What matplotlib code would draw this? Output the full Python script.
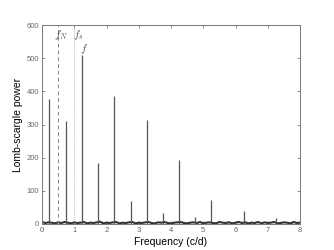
import numpy as np
import matplotlib
matplotlib.use("Agg")
import matplotlib.pyplot as plt

# peak positions (c/d) and Lomb-Scargle power
peakFreq = [0.23, 0.74, 1.24, 1.75, 2.24, 2.75, 3.25, 3.75, 4.25, 4.75, 5.25, 5.75, 6.25, 6.75, 7.25, 7.75]
peakPower = [377, 310, 509, 183, 385, 70, 314, 34, 193, 20, 72, 10, 40, 6, 19, 6]

# noise floor, sampled every 0.1 c/d
floorFreq = [0.0, 0.1, 0.2, 0.3, 0.4, 0.5, 0.6, 0.7, 0.8, 0.9, 1.0, 1.1, 1.2, 1.3, 1.4, 1.5,
             1.6, 1.7, 1.8, 1.9, 2.0, 2.1, 2.2, 2.3, 2.4, 2.5, 2.6, 2.7, 2.8, 2.9, 3.0, 3.1,
             3.2, 3.3, 3.4, 3.5, 3.6, 3.7, 3.8, 3.9, 4.0, 4.1, 4.2, 4.3, 4.4, 4.5, 4.6, 4.7,
             4.8, 4.9, 5.0, 5.1, 5.2, 5.3, 5.4, 5.5, 5.6, 5.7, 5.8, 5.9, 6.0, 6.1, 6.2, 6.3,
             6.4, 6.5, 6.6, 6.7, 6.8, 6.9, 7.0, 7.1, 7.2, 7.3, 7.4, 7.5, 7.6, 7.7, 7.8, 7.9, 8.0]
floorPower = [6, 3, 5, 4, 2, 5, 3, 6, 4, 2, 5, 3, 4, 6, 2, 4,
              3, 5, 7, 2, 4, 3, 5, 6, 2, 4, 3, 5, 6, 2, 4, 3,
              5, 6, 3, 2, 5, 4, 6, 3, 2, 4, 5, 6, 3, 2, 4, 5,
              3, 6, 2, 4, 5, 3, 2, 6, 4, 3, 5, 2, 4, 6, 3, 5,
              2, 4, 3, 6, 2, 5, 3, 4, 6, 2, 3, 5, 4, 2, 6, 3, 4]

nyquist = 0.5
sampling = 1.0

plt.rcParams['font.family'] = ['Liberation Sans', 'DejaVu Sans']
plt.rcParams['mathtext.fontset'] = 'cm'

fig = plt.figure(figsize=(3.34, 2.5), dpi=100)
ax = fig.add_axes([42/334, 26/250, 258/334, 199/250])

ax.plot(floorFreq, floorPower, color='#333333', lw=1.5)
ax.vlines(peakFreq, 0, peakPower, color='#555555', lw=0.9)
ax.axvline(nyquist, color='#888888', lw=0.7, ls='--', dashes=(4, 3))
ax.axvline(sampling, color='#999999', lw=0.6, ls=':')

ax.text(nyquist + 0.08, 592, r'$f_N$', ha='center', va='top', fontsize=8, color='#555555')
ax.text(sampling + 0.12, 592, r'$f_s$', ha='center', va='top', fontsize=8, color='#555555')
ax.text(peakFreq[2] + 0.05, 548, r'$f$', ha='center', va='top', fontsize=8, color='#555555')

ax.set_xlim(0, 8)
ax.set_ylim(0, 600)
ax.set_xticks(range(0, 9))
ax.set_yticks(range(0, 601, 100))
ax.tick_params(direction='in', top=True, right=True, labelsize=5.5, colors='#666666', length=2.5, width=0.5, pad=2)
for s in ax.spines.values():
    s.set_color('#777777')
    s.set_linewidth(0.7)

ax.set_xlabel('Frequency (c/d)', fontsize=7.5, labelpad=2)
ax.set_ylabel('Lomb-scargle power', fontsize=7.5, labelpad=3)

fig.savefig('out.png', dpi=100)
